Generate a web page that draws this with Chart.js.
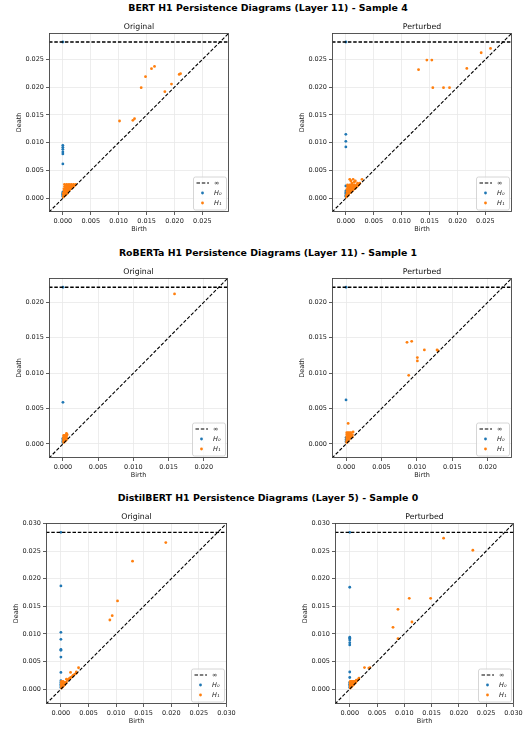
<!DOCTYPE html>
<html><head><meta charset="utf-8">
<script src="https://cdn.jsdelivr.net/npm/chart.js@4.4.0/dist/chart.umd.min.js"></script>
<style>
html,body{margin:0;padding:0;background:#fff;}
body{width:527px;height:729px;position:relative;overflow:hidden;font-family:"DejaVu Sans",sans-serif;}
.sup{position:absolute;left:268px;transform:translate(-50%,-50%);font-weight:bold;font-size:9.4px;white-space:nowrap;color:#000;line-height:1;}
canvas{position:absolute;}
</style></head><body>
<div class="sup" style="top:8px">BERT H1 Persistence Diagrams (Layer 11) - Sample 4</div>
<div class="sup" style="top:253px">RoBERTa H1 Persistence Diagrams (Layer 11) - Sample 1</div>
<div class="sup" style="top:498px">DistilBERT H1 Persistence Diagrams (Layer 5) - Sample 0</div>
<script>
// ---- tick labels / axis limits ----
const bertTicks = [0, 0.005, 0.010, 0.015, 0.020, 0.025];
const robertaTicks = [0, 0.005, 0.010, 0.015, 0.020];
const distilTicks = [0, 0.005, 0.010, 0.015, 0.020, 0.025, 0.030];
const bertRange = [-0.00248, 0.02976];
const robertaRange = [-0.00198, 0.02343];
const distilRange = [-0.0027, 0.0301];
const bertInf = 0.02813;
const robertaInf = 0.02212;
const distilInf = 0.0284;

// ---- series: [birth, death]; Infinity = essential class ----
const bertOrigH0 = [[0,Infinity],[0,0.00953],[0,0.00917],[0,0.00881],[0,0.00833],[0,0.00797],[0,0.00617],[0,0.0011],[0,0.0009],[0,0.0007],[0,0.0005],[0,0.0003]];
const bertOrigH1 = [[0.01015,0.01391],[0.01254,0.01403],[0.01284,0.01433],[0.01403,0.0199],[0.01481,0.02188],[0.01588,0.02332],[0.01642,0.02374],[0.01827,0.01918],[0.01946,0.02056],[0.02084,0.0223],[0.02108,0.02242],
 [0.0003,0.0025],[0.0007,0.0025],[0.0011,0.0025],[0.0015,0.0025],[0.0019,0.0025],[0.0023,0.0025],
 [0.0005,0.0023],[0.0009,0.0023],[0.0013,0.0023],[0.0017,0.0023],[0.0021,0.0023],
 [0.0003,0.0021],[0.0007,0.0021],[0.0011,0.0021],[0.0015,0.0021],[0.0019,0.0021],
 [0.0005,0.0019],[0.0009,0.0019],[0.0013,0.0019],[0.0017,0.0019],
 [0.0002,0.0017],[0.0006,0.0017],[0.001,0.0017],[0.0014,0.0017],
 [0.0004,0.0015],[0.0008,0.0015],[0.0012,0.0015],
 [0.0002,0.0013],[0.0006,0.0013],[0.001,0.0013],
 [0.0004,0.0011],[0.0008,0.0011],
 [0.0001,0.0009],[0.0005,0.0009],[0.0008,0.0009],
 [0.0003,0.0007],[0.0006,0.0007],[0.0001,0.0005],[0.0004,0.0005],[0.0001,0.0002]];
const bertPertH0 = [[0,Infinity],[0,0.01151],[0,0.01025],[0,0.00923],[0,0.00222],[0,0.0013],[0,0.001],[0,0.0008],[0,0.0005],[0,0.0003]];
const bertPertH1 = [[0.01302,0.02314],[0.01451,0.02488],[0.0154,0.02488],[0.01558,0.0199],[0.01749,0.0199],[0.01857,0.0199],[0.02167,0.02338],[0.02424,0.0262],[0.02591,0.02698],
 [0.0003,0.0024],[0.0007,0.0024],[0.0011,0.0024],[0.0015,0.0024],[0.0019,0.0024],[0.0023,0.0024],
 [0.0005,0.0022],[0.0009,0.0022],[0.0013,0.0022],[0.0017,0.0022],[0.0021,0.0022],
 [0.0003,0.002],[0.0007,0.002],[0.0011,0.002],[0.0015,0.002],[0.0019,0.002],
 [0.0005,0.0018],[0.0009,0.0018],[0.0013,0.0018],[0.0017,0.0018],
 [0.0002,0.0016],[0.0006,0.0016],[0.001,0.0016],[0.0014,0.0016],
 [0.0004,0.0014],[0.0008,0.0014],[0.0012,0.0014],
 [0.0002,0.0012],[0.0006,0.0012],[0.001,0.0012],
 [0.0004,0.001],[0.0008,0.001],[0.0002,0.0008],[0.0005,0.0008],
 [0.0001,0.0005],[0.0004,0.0005],[0.0001,0.0002],
 [0.0007,0.0034],[0.0009,0.0031],[0.0013,0.0034],[0.0015,0.0029],[0.0017,0.0031],[0.0011,0.0027],[0.0021,0.0027],[0.0025,0.0027],[0.0029,0.0034]];
const robertaOrigH0 = [[0,Infinity],[0,0.00588],[0,0.0008],[0,0.0006],[0,0.0004],[0,0.0002]];
const robertaOrigH1 = [[0.01584,0.02118],
 [0.0001,0.0012],[0.0003,0.0012],[0.0005,0.0012],
 [0.0001,0.001],[0.0003,0.001],[0.0005,0.001],
 [0.0001,0.0008],[0.0003,0.0008],[0.0005,0.0008],
 [0.0001,0.0006],[0.0003,0.0006],[0.0005,0.0006],
 [0.0001,0.0004],[0.0003,0.0004],[0.0001,0.0002],
 [0.0005,0.0015],[0.0006,0.0013]];
const robertaPertH0 = [[0,Infinity],[0,0.00621],[0,0.0009],[0,0.0006],[0,0.0003]];
const robertaPertH1 = [[0.00861,0.01435],[0.00927,0.01449],[0.00885,0.00969],[0.01007,0.01219],[0.01007,0.01172],[0.01106,0.01327],[0.01285,0.01327],[0.01299,0.01313],
 [0.0001,0.0016],[0.0003,0.0016],[0.0005,0.0016],[0.0007,0.0016],
 [0.0001,0.0013],[0.0003,0.0013],[0.0005,0.0013],[0.0007,0.0013],[0.0009,0.0013],
 [0.0001,0.001],[0.0003,0.001],[0.0005,0.001],[0.0007,0.001],[0.0009,0.001],
 [0.0001,0.0007],[0.0003,0.0007],[0.0005,0.0007],
 [0.0001,0.0004],[0.0003,0.0004],[0.0001,0.0002],
 [0.0003,0.0029],[0.001,0.0017]];
const distilOrigH0 = [[0,Infinity],[0,0.01869],[0,0.01028],[0,0.00901],[0,0.0072],[0,0.00702],[0,0.00581],[0,0.00302],[0,0.00151],[0,0.0012],[0,0.0009],[0,0.0006],[0,0.0003]];
const distilOrigH1 = [[0.01901,0.02655],[0.01298,0.02317],[0.01026,0.01597],[0.0093,0.01331],[0.00887,0.01252],[0.0032,0.00387],[0.00175,0.00302],[0.00284,0.0029],
 [0.0001,0.0014],[0.0004,0.0014],
 [0.0001,0.0012],[0.0003,0.0012],[0.0005,0.0012],[0.0008,0.0012],[0.001,0.0012],
 [0.0001,0.001],[0.0003,0.001],[0.0005,0.001],[0.0008,0.001],
 [0.0001,0.0008],[0.0003,0.0008],[0.0005,0.0008],[0.0007,0.0008],
 [0.0001,0.0006],[0.0003,0.0006],[0.0005,0.0006],
 [0.0001,0.0004],[0.0003,0.0004],[0.0001,0.0002],
 [0.0012,0.0016],[0.0014,0.0018],[0.001,0.0018],[0.0016,0.002],[0.0018,0.0021],[0.002,0.0022],[0.0022,0.0025],[0.0025,0.0027],[0.0028,0.0031]];
const distilPertH0 = [[0,Infinity],[0,0.01845],[0,0.0094],[0,0.0092],[0,0.0089],[0,0.0084],[0,0.008],[0,0.0031],[0,0.0021],[0,0.0012],[0,0.0009],[0,0.0006],[0,0.0003]];
const distilPertH1 = [[0.0172,0.02734],[0.02256,0.02516],[0.01091,0.01645],[0.01482,0.01645],[0.00884,0.01446],[0.00793,0.01119],[0.0114,0.01216],[0.00884,0.00913],[0.0027,0.0039],[0.0035,0.0038],[0.0037,0.0039],
 [0.0001,0.0014],[0.0003,0.0014],[0.0005,0.0014],[0.0007,0.0014],[0.0009,0.0014],
 [0.0001,0.0012],[0.0003,0.0012],[0.0005,0.0012],[0.0007,0.0012],[0.0009,0.0012],[0.0011,0.0012],
 [0.0001,0.001],[0.0003,0.001],[0.0005,0.001],[0.0007,0.001],[0.0009,0.001],
 [0.0001,0.0008],[0.0003,0.0008],[0.0005,0.0008],[0.0007,0.0008],
 [0.0001,0.0006],[0.0003,0.0006],[0.0005,0.0006],
 [0.0001,0.0004],[0.0003,0.0004],[0.0001,0.0002],
 [0.0012,0.0016],[0.0013,0.0015],[0.0016,0.0018],[0.0017,0.002]];

const C_H0 = '#1f77b4', C_H1 = '#ff7f0e';
const FONT = '"DejaVu Sans", sans-serif';
const DASH = [3.5, 1.8];

const framePlugin = {
  id: 'frameLegend',
  afterDraw(chart) {
    const ctx = chart.ctx, a = chart.chartArea;
    ctx.save();
    ctx.strokeStyle = '#444'; ctx.lineWidth = 0.9; ctx.setLineDash([]);
    ctx.strokeRect(a.left + 0.5, a.top + 0.5, a.right - a.left - 1, a.bottom - a.top - 1);
    const bw = 33, bh = 33;
    const bx = a.right - 3 - bw, by = a.bottom - 2.5 - bh;
    ctx.beginPath();
    if (ctx.roundRect) ctx.roundRect(bx + 0.5, by + 0.5, bw, bh, 2); else ctx.rect(bx + 0.5, by + 0.5, bw, bh);
    ctx.fillStyle = 'rgba(255,255,255,0.8)'; ctx.fill();
    ctx.strokeStyle = '#cccccc'; ctx.lineWidth = 0.8; ctx.stroke();
    const rows = [by + 6.5, by + 16.5, by + 26.5];
    ctx.strokeStyle = '#000'; ctx.lineWidth = 1.2; ctx.setLineDash(DASH);
    ctx.beginPath(); ctx.moveTo(bx + 3.5, rows[0]); ctx.lineTo(bx + 16, rows[0]); ctx.stroke();
    ctx.setLineDash([]);
    ctx.fillStyle = C_H0; ctx.beginPath(); ctx.arc(bx + 9.5, rows[1], 1.4, 0, Math.PI * 2); ctx.fill();
    ctx.fillStyle = C_H1; ctx.beginPath(); ctx.arc(bx + 9.5, rows[2], 1.4, 0, Math.PI * 2); ctx.fill();
    ctx.fillStyle = '#222'; ctx.textBaseline = 'middle'; ctx.textAlign = 'left';
    ctx.font = '6.5px ' + FONT;
    ctx.fillText('∞', bx + 21, rows[0]);
    ctx.font = 'italic 6.5px ' + FONT;
    ctx.fillText('H₀', bx + 21, rows[1]);
    ctx.fillText('H₁', bx + 21, rows[2]);
    ctx.restore();
  }
};

function panel(cfg) {
  const L = 48, T = 20, B = 26, R = 16;
  const w = L + cfg.w + R, h = T + cfg.h + B;
  const c = document.createElement('canvas');
  c.width = w; c.height = h;
  c.style.left = (cfg.left - L) + 'px'; c.style.top = (cfg.top - T) + 'px';
  c.style.width = w + 'px'; c.style.height = h + 'px';
  document.body.appendChild(c);
  const lo = cfg.range[0], hi = cfg.range[1];
  const toPts = arr => arr.map(p => ({ x: p[0], y: isFinite(p[1]) ? p[1] : cfg.inf }));
  const axis = (isX) => ({
    type: 'linear', min: lo, max: hi,
    afterBuildTicks: s => { s.ticks = cfg.ticks.map(v => ({ value: v })); },
    afterFit: s => { if (isX) s.height = B; else s.width = L; },
    ticks: { callback: v => Number(v).toFixed(3), font: { size: 6.5, family: FONT }, color: '#222', padding: 2, maxRotation: 0, autoSkip: false },
    grid: { color: '#e9e9e9', lineWidth: 0.8, tickLength: 3, tickColor: '#333', tickWidth: 0.8, drawTicks: true },
    border: { display: false },
    title: { display: true, text: isX ? 'Birth' : 'Death', font: { size: 6.5, family: FONT }, color: '#222',
             padding: isX ? { top: 0, bottom: 5.1 } : { top: 14.1, bottom: 0 } }
  });
  new Chart(c, {
    type: 'scatter',
    data: { datasets: [
      { type: 'line', data: [{ x: lo, y: cfg.inf }, { x: hi, y: cfg.inf }], borderColor: '#000', borderWidth: 1.3, borderDash: DASH, pointRadius: 0, fill: false },
      { type: 'line', data: [{ x: lo, y: lo }, { x: hi, y: hi }], borderColor: '#000', borderWidth: 1.1, borderDash: DASH, pointRadius: 0, fill: false },
      { data: toPts(cfg.h1), backgroundColor: C_H1, borderWidth: 0, pointRadius: 1.4 },
      { data: toPts(cfg.h0), backgroundColor: C_H0, borderWidth: 0, pointRadius: 1.4 }
    ] },
    options: {
      responsive: false, animation: false, devicePixelRatio: 1,
      layout: { padding: { left: 0, right: R, top: 0, bottom: 0 } },
      plugins: {
        legend: { display: false }, tooltip: { enabled: false },
        title: { display: true, text: cfg.title, fullSize: false, color: '#111',
                 font: { size: 7.8, family: FONT, weight: 'normal', lineHeight: 1.2 }, padding: { top: 9.3, bottom: 1.3 } }
      },
      scales: { x: axis(true), y: axis(false) }
    },
    plugins: [framePlugin]
  });
}

panel({ left: 49, top: 33, w: 180, h: 179, title: 'Original', range: bertRange, inf: bertInf, ticks: bertTicks, h0: bertOrigH0, h1: bertOrigH1 });
panel({ left: 332, top: 33, w: 180, h: 179, title: 'Perturbed', range: bertRange, inf: bertInf, ticks: bertTicks, h0: bertPertH0, h1: bertPertH1 });
panel({ left: 49, top: 278, w: 179, h: 180, title: 'Original', range: robertaRange, inf: robertaInf, ticks: robertaTicks, h0: robertaOrigH0, h1: robertaOrigH1 });
panel({ left: 332, top: 278, w: 180, h: 180, title: 'Perturbed', range: robertaRange, inf: robertaInf, ticks: robertaTicks, h0: robertaPertH0, h1: robertaPertH1 });
panel({ left: 46, top: 523, w: 181, h: 181, title: 'Original', range: distilRange, inf: distilInf, ticks: distilTicks, h0: distilOrigH0, h1: distilOrigH1 });
panel({ left: 335, top: 523, w: 179, h: 181, title: 'Perturbed', range: distilRange, inf: distilInf, ticks: distilTicks, h0: distilPertH0, h1: distilPertH1 });
</script>
</body></html>
